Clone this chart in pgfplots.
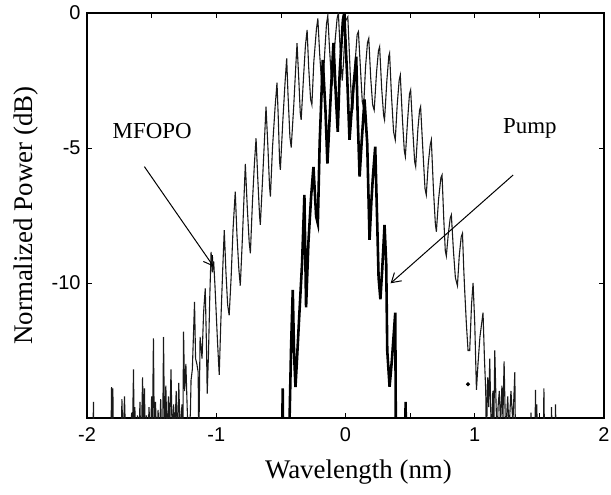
\documentclass[border=0pt]{standalone}
\usepackage{fontspec}
\setmainfont{Liberation Serif}
\setsansfont{Liberation Sans}
\usepackage{pgfplots}
\pgfplotsset{compat=1.18}
\usetikzlibrary{arrows.meta}

\begin{document}
\begin{tikzpicture}
\begin{axis}[
  scale only axis, width=517bp, height=405bp,
  xmin=-2, xmax=2, ymin=-15, ymax=0,
  xtick={-2,-1,0,1,2}, xticklabels={-2,-1,0,1,2},
  minor xtick={-1.5,-0.5,0.5,1.5},
  ytick={-10,-5,0}, yticklabels={-10,-5,0},
  tick align=inside, major tick length=5bp, minor tick length=5bp,
  xtick pos=both, ytick pos=both,
  axis line style={line width=1.1bp},
  tick style={black, line width=0.7bp},
  xticklabel style={font=\sffamily\fontsize{20}{20}\selectfont, yshift=-6bp},
  yticklabel style={font=\sffamily\fontsize{20}{20}\selectfont, xshift=-3bp},
  xlabel={Wavelength (nm)}, ylabel={Normalized Power (dB)},
  every axis x label/.style={at={(axis description cs:0.525,-0.133)},anchor=center,font=\fontsize{27}{30}\selectfont},
  every axis y label/.style={at={(axis description cs:-0.118,0.5)},rotate=90,anchor=center,font=\fontsize{27}{30}\selectfont},
]
% MFOPO spectrum (thin)
\addplot[black!90, line width=1.1bp] coordinates {
(-2.0,-16) (-1.955,-16) (-1.95,-14.4) (-1.945,-16)
(-1.815,-16) (-1.81,-13.86) (-1.805,-16) (-1.80,-13.9) (-1.795,-16)
(-1.735,-16) (-1.73,-14.3) (-1.72,-16) (-1.71,-14.2) (-1.70,-16)
(-1.66,-16) (-1.655,-14.8) (-1.65,-16) (-1.64,-13.2) (-1.635,-16) (-1.63,-14.6) (-1.62,-16)
(-1.61,-14.9) (-1.60,-16) (-1.59,-14.4) (-1.585,-16)
(-1.58,-16) (-1.57,-13.5) (-1.565,-15.2) (-1.555,-13.9) (-1.55,-16) (-1.54,-14.9) (-1.53,-16)
(-1.52,-14.6) (-1.51,-16) (-1.50,-14.2) (-1.495,-16) (-1.486,-12.05) (-1.48,-15.3)
(-1.47,-14.4) (-1.46,-16) (-1.45,-14.7) (-1.44,-16) (-1.43,-14.3) (-1.42,-16)
(-1.415,-16) (-1.408,-12.0) (-1.40,-15.5) (-1.39,-13.8) (-1.38,-16) (-1.37,-14.2) (-1.36,-15.4)
(-1.35,-13.2) (-1.34,-16) (-1.33,-14.5) (-1.32,-15.6) (-1.31,-14.0) (-1.30,-16)
(-1.29,-13.7) (-1.28,-15.5) (-1.265,-14.5) (-1.258,-15.4)
(-1.253,-11.8) (-1.245,-14.0) (-1.235,-13.0) (-1.225,-14.6) (-1.215,-16) (-1.20,-14.8)
(-1.195,-13.6) (-1.185,-13.2) (-1.168,-10.7) (-1.16,-12.8) (-1.15,-13.0) (-1.14,-13.3) (-1.135,-16)
(-1.125,-12.0) (-1.11,-12.8) (-1.098,-11.1) (-1.085,-10.2) (-1.075,-12.5) (-1.07,-14.1)
(-1.06,-12.6) (-1.05,-10.5) (-1.04,-8.85) (-1.03,-9.6) (-1.02,-9.2) (-1.01,-10.1)
(-0.99,-12.2) (-0.977,-13.4) (-0.965,-11.5) (-0.95,-9.5) (-0.938,-8.04) (-0.925,-9.6)
(-0.912,-10.8) (-0.90,-11.2) (-0.885,-9.8) (-0.87,-8.0) (-0.853,-6.62) (-0.84,-8.2)
(-0.825,-9.5) (-0.814,-10.1) (-0.80,-8.6) (-0.785,-6.8) (-0.775,-5.59) (-0.76,-7.2)
(-0.745,-8.5) (-0.736,-8.9) (-0.72,-7.0) (-0.705,-5.6) (-0.692,-4.64) (-0.68,-6.0)
(-0.665,-7.5) (-0.659,-7.85) (-0.64,-6.0) (-0.625,-4.5) (-0.615,-3.47) (-0.60,-5.0)
(-0.588,-6.4) (-0.581,-6.8) (-0.565,-5.0) (-0.545,-3.5) (-0.53,-2.58) (-0.52,-3.9)
(-0.51,-5.5) (-0.504,-5.81) (-0.485,-4.0) (-0.468,-2.6) (-0.455,-1.68) (-0.445,-3.0)
(-0.43,-4.6) (-0.42,-4.98) (-0.40,-3.4) (-0.385,-2.0) (-0.375,-1.12) (-0.36,-2.6)
(-0.35,-3.7) (-0.343,-3.96) (-0.325,-2.4) (-0.31,-1.2) (-0.297,-0.63) (-0.285,-2.0)
(-0.27,-3.2) (-0.26,-3.4) (-0.245,-1.8) (-0.225,-0.6) (-0.214,-0.2) (-0.20,-1.5)
(-0.185,-2.6) (-0.175,-2.8) (-0.16,-1.4) (-0.147,-0.4) (-0.137,-0.1) (-0.125,-1.2)
(-0.11,-2.4) (-0.10,-2.6) (-0.08,-1.0) (-0.065,-0.2) (-0.055,0) (-0.04,-1.5)
(-0.025,-2.5) (-0.015,-1.8) (0.0,-0.3) (0.018,-0.14) (0.03,-1.5) (0.045,-3.2)
(0.057,-3.6) (0.075,-1.8) (0.09,-0.8) (0.1,-0.69) (0.115,-2.0) (0.13,-3.3)
(0.14,-3.5) (0.155,-2.0) (0.17,-1.1) (0.18,-0.94) (0.195,-2.4) (0.21,-3.4)
(0.222,-3.6) (0.24,-2.2) (0.255,-1.4) (0.264,-1.25) (0.28,-2.8) (0.295,-3.8)
(0.302,-3.96) (0.32,-2.5) (0.335,-1.6) (0.341,-1.49) (0.355,-3.0) (0.372,-4.4)
(0.385,-4.7) (0.40,-3.4) (0.415,-2.5) (0.424,-2.3) (0.44,-3.9) (0.455,-5.1)
(0.463,-5.32) (0.48,-4.0) (0.495,-3.0) (0.504,-2.85) (0.52,-4.3) (0.535,-5.5)
(0.543,-5.69) (0.56,-4.3) (0.573,-3.6) (0.581,-3.47) (0.60,-5.2) (0.615,-6.5)
(0.625,-6.74) (0.64,-5.6) (0.655,-4.9) (0.664,-4.7) (0.68,-6.5) (0.695,-7.8)
(0.703,-8.1) (0.72,-6.9) (0.738,-6.1) (0.747,-6.0) (0.76,-7.6) (0.772,-8.8)
(0.78,-9.0) (0.795,-8.2) (0.81,-7.6) (0.819,-7.48) (0.835,-8.8) (0.85,-9.8)
(0.866,-10.1) (0.88,-9.0) (0.895,-8.3) (0.905,-8.16) (0.915,-9.5) (0.922,-10.26)
(0.935,-11.5) (0.948,-12.5) (0.961,-12.5) (0.975,-10.8) (0.987,-10.0) (1.0,-11.5)
(1.013,-13.96) (1.025,-13.0) (1.04,-12.0) (1.064,-11.1) (1.075,-12.8) (1.085,-14.0)
(1.09,-16) (1.10,-13.5) (1.108,-14.6) (1.116,-12.8) (1.125,-15.0) (1.13,-16) (1.14,-14.0)
(1.148,-15.2) (1.155,-12.5) (1.165,-14.5) (1.175,-16) (1.18,-14.6) (1.19,-14.0) (1.20,-15.3) (1.21,-13.8)
(1.218,-15.0) (1.227,-12.9) (1.24,-16) (1.248,-14.8) (1.255,-14.2) (1.265,-15.5) (1.28,-14.0) (1.295,-15.2)
(1.31,-13.3) (1.315,-16) (1.43,-16) (1.435,-14.8) (1.44,-16) (1.465,-16)
(1.47,-13.96) (1.475,-16) (1.48,-14.5) (1.485,-16) (1.53,-16) (1.535,-13.9)
(1.54,-16) (1.59,-16) (1.594,-14.6) (1.60,-16) (1.62,-16) (1.625,-14.5)
(1.63,-16) (2.0,-16)
};
% pump spectrum (thick)
\addplot[black, line width=2.6bp] coordinates {
(-2.0,-16) (-0.49,-16) (-0.486,-13.9) (-0.482,-16) (-0.437,-16) (-0.421,-12.36)
(-0.408,-10.26) (-0.398,-12.6) (-0.387,-13.85) (-0.375,-12.8) (-0.362,-11.6)
(-0.336,-9.26) (-0.318,-6.74) (-0.305,-10.9) (-0.287,-8.5) (-0.266,-6.8)
(-0.248,-5.7) (-0.227,-7.54) (-0.214,-7.8) (-0.2,-4.83) (-0.176,-1.74)
(-0.155,-3.6) (-0.14,-5.58) (-0.111,-2.73) (-0.093,-1.11) (-0.072,-3.33)
(-0.06,-4.4) (-0.045,-2.2) (-0.02,-0.26) (-0.01,0) (0.013,-2.36) (0.031,-4.7)
(0.057,-2.96) (0.083,-1.62) (0.095,-3.96) (0.109,-6.06) (0.126,-4.7)
(0.147,-3.2) (0.168,-4.83) (0.186,-8.4) (0.2,-7.0) (0.212,-6.06) (0.23,-4.95)
(0.246,-7.9) (0.256,-9.8) (0.27,-10.6) (0.284,-9.5) (0.302,-7.85) (0.315,-9.3)
(0.323,-12.5) (0.341,-13.84) (0.359,-12.85) (0.385,-11.1) (0.39,-16)
(0.462,-16) (0.465,-14.4) (0.468,-16) (2.0,-16)
};
\addplot[only marks, mark=*, mark size=1.8bp, black] coordinates {(0.948,-13.75)};
\node[font=\fontsize{23}{25}\selectfont] at (axis cs:-1.496,-4.37) {MFOPO};
\node[font=\fontsize{23}{25}\selectfont] at (axis cs:1.426,-4.26) {Pump};
\draw[line width=1bp, -{Straight Barb[length=9bp,width=11bp]}]
  (axis cs:-1.556,-5.69) -- (axis cs:-1.021,-9.39);
\draw[line width=1bp, -{Straight Barb[length=9bp,width=11bp]}]
  (axis cs:1.297,-6.0) -- (axis cs:0.349,-10.01);
\end{axis}
\pgfresetboundingbox
\path[use as bounding box] ([shift={(-87bp,-76bp)}]current axis.south west) rectangle ([shift={(7bp,13bp)}]current axis.north east);
\end{tikzpicture}
\end{document}
